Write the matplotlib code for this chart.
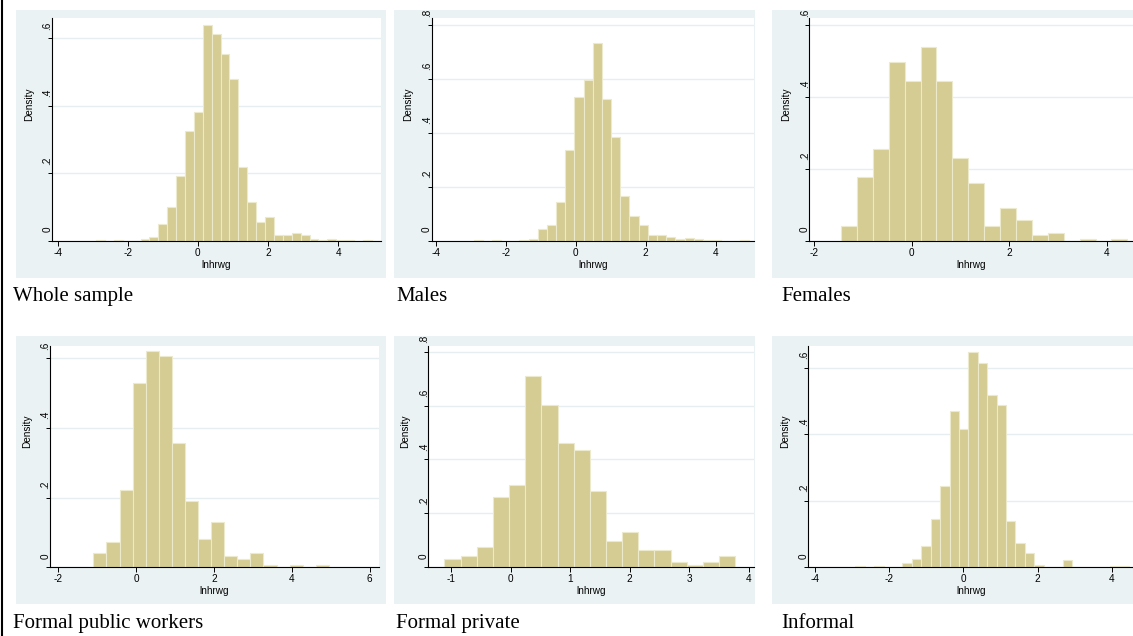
import numpy as np
import matplotlib
matplotlib.use("Agg")
import matplotlib.pyplot as plt
from matplotlib import transforms
from matplotlib.patches import Rectangle
from matplotlib.lines import Line2D

plt.rcParams["axes.unicode_minus"] = False

# ---- data (densities) ----
titles = ["Whole sample", "Males", "Females",
          "Formal public workers", "Formal private", "Informal"]

whole_start, whole_width = -4.17, 0.2535
whole_dens = [0, 0, 0, 0, 0, 0.002, 0, 0.002, 0, 0, 0.006, 0.012, 0.049, 0.100,
              0.193, 0.326, 0.382, 0.640, 0.614, 0.553, 0.479, 0.218, 0.114,
              0.055, 0.071, 0.018, 0.018, 0.024, 0.017, 0.006, 0.001, 0.006,
              0.003, 0.001, 0, 0.001, 0]

male_start, male_width = -2.926, 0.2625
male_dens = [0.002, 0, 0.002, 0, 0, 0.003, 0.005, 0.042, 0.058, 0.143, 0.336,
             0.534, 0.596, 0.732, 0.526, 0.385, 0.166, 0.090, 0.057, 0.021,
             0.021, 0.014, 0.006, 0.010, 0.006, 0.004, 0.004, 0, 0, 0.002]

female_start, female_width = -1.450, 0.3263
female_dens = [0.041, 0.177, 0.255, 0.497, 0.444, 0.539, 0.444, 0.230, 0.160,
               0.041, 0.091, 0.057, 0.016, 0.021, 0, 0.005, 0, 0.005]

public_start, public_width = -1.095, 0.336
public_dens = [0.041, 0.074, 0.223, 0.530, 0.621, 0.605, 0.357, 0.190, 0.082,
               0.131, 0.033, 0.025, 0.041, 0.008, 0, 0.008, 0, 0.008]

private_start, private_width = -1.115, 0.2717
private_dens = [0.031, 0.042, 0.075, 0.261, 0.305, 0.710, 0.602, 0.460, 0.436,
                0.283, 0.099, 0.131, 0.064, 0.064, 0.020, 0.009, 0.020, 0.042]

informal_start, informal_width = -4.17, 0.2535
informal_dens = [0, 0, 0, 0, 0, 0.003, 0, 0.003, 0, 0, 0.013, 0.025, 0.064,
                 0.146, 0.244, 0.471, 0.415, 0.647, 0.615, 0.519, 0.488, 0.140,
                 0.073, 0.043, 0.007, 0, 0, 0.022, 0, 0, 0, 0, 0.003, 0.003]

starts = [whole_start, male_start, female_start, public_start, private_start, informal_start]
widths = [whole_width, male_width, female_width, public_width, private_width, informal_width]
densities = [whole_dens, male_dens, female_dens, public_dens, private_dens, informal_dens]

xticks = [[-4, -2, 0, 2, 4], [-4, -2, 0, 2, 4], [-2, 0, 2, 4],
          [-2, 0, 2, 4, 6], [-1, 0, 1, 2, 3, 4], [-4, -2, 0, 2, 4]]
yticks = [[0, .2, .4, .6], [0, .2, .4, .6, .8], [0, .2, .4, .6],
          [0, .2, .4, .6], [0, .2, .4, .6, .8], [0, .2, .4, .6]]

# ---- layout (pixels) ----
W, H = 1133, 636
bg_boxes = [(16, 10, 386, 278), (394, 10, 755, 278), (772, 10, 1133, 278),
            (16, 336, 386, 604), (394, 336, 755, 604), (772, 336, 1133, 604)]
ax_boxes = [(52, 18, 381, 240.7), (431.5, 18, 754, 240.7), (809.3, 18, 1133, 240.7),
            (50, 346, 379, 567.3), (428.3, 346, 754, 567.3), (808.3, 346, 1133, 567.3)]
xlims = [(-4.16, 5.22), (-4.13, 5.10), (-2.10, 4.54),
         (-2.21, 6.24), (-1.385, 4.09), (-4.17, 4.57)]
ytops = [0.660, 0.826, 0.6195, 0.635, 0.821, 0.665]
title_pos = [(13, 301), (396.5, 301), (781, 301), (13, 628), (396.5, 628), (781, 628)]

bar_color = "#D4CC92"
bar_edge = "#ECE9CC"
bg_color = "#EAF2F3"
grid_color = "#E6EEF0"
tick_font = dict(family="Liberation Sans", size=7.2)

fig = plt.figure(figsize=(W / 100, H / 100), dpi=100)
fig.patch.set_facecolor("white")


def px_rect(x0, y0, x1, y1):
    return [x0 / W, 1 - y1 / H, (x1 - x0) / W, (y1 - y0) / H]


def px_offset(dx, dy):
    return transforms.ScaledTranslation(dx / 100, dy / 100, fig.dpi_scale_trans)


def stata_label(v):
    if v == 0:
        return "0"
    return ("%.1f" % v).lstrip("0")


for i in range(6):
    x0, y0, x1, y1 = bg_boxes[i]
    fig.add_artist(Rectangle((x0 / W, 1 - y1 / H), (x1 - x0) / W, (y1 - y0) / H,
                             transform=fig.transFigure, facecolor=bg_color,
                             edgecolor="none", zorder=-5))

    ax = fig.add_axes(px_rect(*ax_boxes[i]))
    ax.set_facecolor("white")
    edges = starts[i] + widths[i] * np.arange(len(densities[i]))
    ax.bar(edges, densities[i], width=widths[i], align="edge",
           color=bar_color, edgecolor=bar_edge, linewidth=0.8, zorder=2)

    ax.set_xlim(*xlims[i])
    ax.set_ylim(0, ytops[i])
    ax.set_xticks(xticks[i])
    ax.set_xticklabels([str(t) for t in xticks[i]], **tick_font)
    ax.set_yticks(yticks[i])
    ax.tick_params(axis="x", length=3.5, width=0.7, pad=1.5)
    ax.tick_params(axis="y", length=3, width=0.7, labelleft=False)
    ax.set_axisbelow(True)
    ax.grid(axis="y", color=grid_color, linewidth=1.0)
    for s in ["top", "right"]:
        ax.spines[s].set_visible(False)
    for s in ["left", "bottom"]:
        ax.spines[s].set_linewidth(0.8)
        ax.spines[s].set_color("black")

    # rotated y tick labels, shifted up as in the source
    ytrans = transforms.blended_transform_factory(ax.transAxes, ax.transData)
    for v in yticks[i]:
        ax.text(0, v, stata_label(v), rotation=90, ha="right", va="bottom",
                transform=ytrans + px_offset(0.5, 8.5), clip_on=False, **tick_font)

    ax.text(0, 0.5, "Density", rotation=90, ha="center", va="bottom",
            transform=ax.transAxes + px_offset(-23, 8.5), clip_on=False, **tick_font)
    ax.text(0.5, 0, "lnhrwg", ha="center", va="center",
            transform=ax.transAxes + px_offset(0, -24), clip_on=False, **tick_font)

    tx, ty = title_pos[i]
    fig.text(tx / W, 1 - ty / H, titles[i], family="Liberation Serif",
             fontsize=15, ha="left", va="baseline")

fig.add_artist(Line2D([2 / W, 2 / W], [0, 1], transform=fig.transFigure,
                      color="black", linewidth=1.5))

fig.savefig("out.png", dpi=100)
